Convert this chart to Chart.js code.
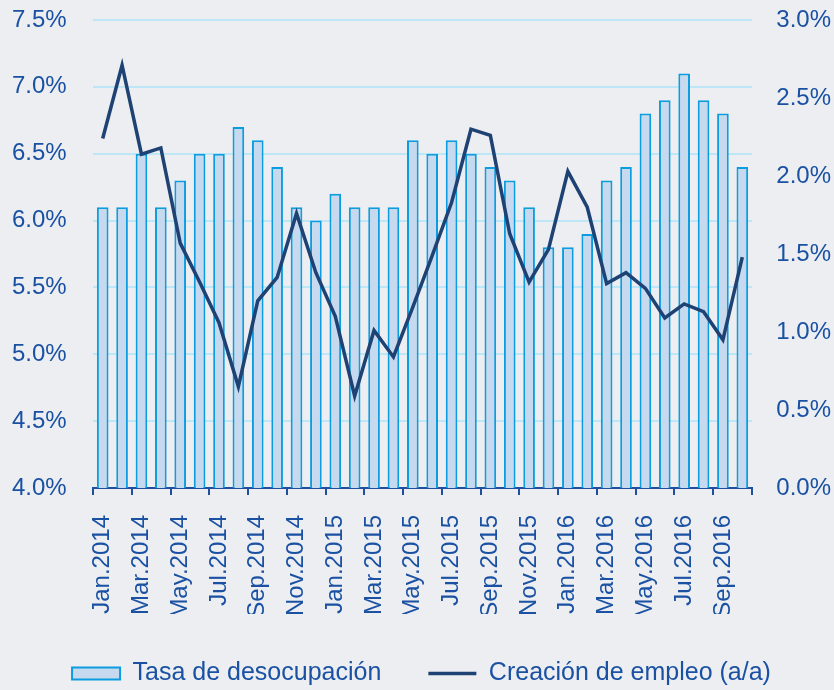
<!DOCTYPE html>
<html>
<head>
<meta charset="utf-8">
<script src="https://cdn.jsdelivr.net/npm/chart.js@4"></script>
<style>
    html, body { margin: 0; padding: 0; background: #eceef1; overflow: hidden; }
    #wrap { position: relative; width: 834px; height: 696px; }
</style>
</head>
<body>
<div id="wrap"><canvas id="chart"></canvas></div>
<script>
// Monthly series, Jan 2014 - Oct 2016
const months = [
    'Jan.2014', 'Feb.2014', 'Mar.2014', 'Apr.2014', 'May.2014', 'Jun.2014',
    'Jul.2014', 'Aug.2014', 'Sep.2014', 'Oct.2014', 'Nov.2014', 'Dec.2014',
    'Jan.2015', 'Feb.2015', 'Mar.2015', 'Apr.2015', 'May.2015', 'Jun.2015',
    'Jul.2015', 'Aug.2015', 'Sep.2015', 'Oct.2015', 'Nov.2015', 'Dec.2015',
    'Jan.2016', 'Feb.2016', 'Mar.2016', 'Apr.2016', 'May.2016', 'Jun.2016',
    'Jul.2016', 'Aug.2016', 'Sep.2016', 'Oct.2016'
];

// Tasa de desocupación (left axis, %)
const unemployment = [
    6.1, 6.1, 6.5, 6.1, 6.3, 6.5, 6.5, 6.7, 6.6, 6.4, 6.1, 6.0,
    6.2, 6.1, 6.1, 6.1, 6.6, 6.5, 6.6, 6.5, 6.4, 6.3, 6.1, 5.8,
    5.8, 5.9, 6.3, 6.4, 6.8, 6.9, 7.1, 6.9, 6.8, 6.4
];

// Creación de empleo a/a (right axis, %)
const jobGrowth = [
    2.24, 2.71, 2.14, 2.18, 1.57, 1.32, 1.06, 0.65, 1.20, 1.35, 1.76, 1.38,
    1.10, 0.59, 1.01, 0.84, 1.16, 1.49, 1.83, 2.30, 2.26, 1.63, 1.32, 1.53,
    2.03, 1.80, 1.31, 1.38, 1.28, 1.09, 1.18, 1.13, 0.95, 1.48
];

const textColor = '#1a51a3';
const axisColor = '#1f4f9e';
const gridColor = '#bde6f7';
const barFill = '#c6d9ef';
const barBorder = '#0b9de0';
const lineColor = '#1e4273';

Chart.defaults.font.family = "'Liberation Sans', Arial, sans-serif";
Chart.defaults.font.size = 24;
Chart.defaults.color = textColor;

const pct = v => v.toFixed(1) + '%';

const ctx = document.getElementById('chart').getContext('2d');
const chart = new Chart(ctx, {
    type: 'bar',
    data: {
        labels: months,
        datasets: [
            {
                type: 'line',
                label: 'Creación de empleo (a/a)',
                data: jobGrowth,
                yAxisID: 'y2',
                borderColor: lineColor,
                borderWidth: 3.5,
                tension: 0,
                pointRadius: 0,
                pointHoverRadius: 0,
                fill: false
            },
            {
                type: 'bar',
                label: 'Tasa de desocupación',
                data: unemployment,
                yAxisID: 'y',
                backgroundColor: barFill,
                borderColor: barBorder,
                borderWidth: 2,
                categoryPercentage: 1,
                barPercentage: 0.6
            }
        ]
    },
    options: {
        responsive: true,
        maintainAspectRatio: false,
        animation: false,
        layout: { padding: { top: 20, left: 12, right: 3, bottom: 0 } },
        scales: {
            x: {
                offset: true,
                grid: {
                    offset: true,
                    drawOnChartArea: false,
                    drawTicks: true,
                    tickLength: 7,
                    lineWidth: 2,
                    color: c => (c.index === undefined || c.index % 2 === 0) ? axisColor : 'rgba(0,0,0,0)'
                },
                border: { display: true, color: axisColor, width: 2 },
                ticks: {
                    autoSkip: false,
                    maxRotation: 90,
                    minRotation: 90,
                    padding: 20,
                    callback: (val, i) => i % 2 === 0 ? months[i] : ''
                },
                afterFit: s => { s.height = 126; }
            },
            y: {
                position: 'left',
                min: 4.0,
                max: 7.5,
                grid: { color: gridColor, lineWidth: 2, drawTicks: false },
                border: { display: false },
                // labels pinned to the outer edge; padding 0 keeps the plot top at 20px
                ticks: { stepSize: 0.5, padding: 0, crossAlign: 'far', callback: pct },
                afterFit: s => { s.width = 81; }
            },
            y2: {
                position: 'right',
                min: 0,
                max: 3.0,
                grid: { drawOnChartArea: false, drawTicks: false },
                border: { display: false },
                ticks: { stepSize: 0.5, padding: 0, crossAlign: 'far', callback: pct },
                afterFit: s => { s.width = 79; }
            }
        },
        plugins: {
            tooltip: { enabled: false },
            legend: {
                position: 'bottom',
                labels: {
                    usePointStyle: true,
                    pointStyleWidth: 48,
                    boxHeight: 12,
                    padding: 47,
                    font: { size: 25 },
                    color: textColor,
                    generateLabels: chart => {
                        const items = Chart.defaults.plugins.legend.labels.generateLabels(chart);
                        items.forEach(item => {
                            if (item.datasetIndex === 1) {
                                item.pointStyle = 'rect';
                                item.fillStyle = barFill;
                                item.strokeStyle = barBorder;
                                item.lineWidth = 2;
                            } else {
                                item.pointStyle = 'line';
                                item.strokeStyle = lineColor;
                                item.lineWidth = 3.5;
                            }
                        });
                        // bars first, as in the source legend
                        return items.reverse();
                    }
                }
            }
        }
    }
});
</script>
</body>
</html>
